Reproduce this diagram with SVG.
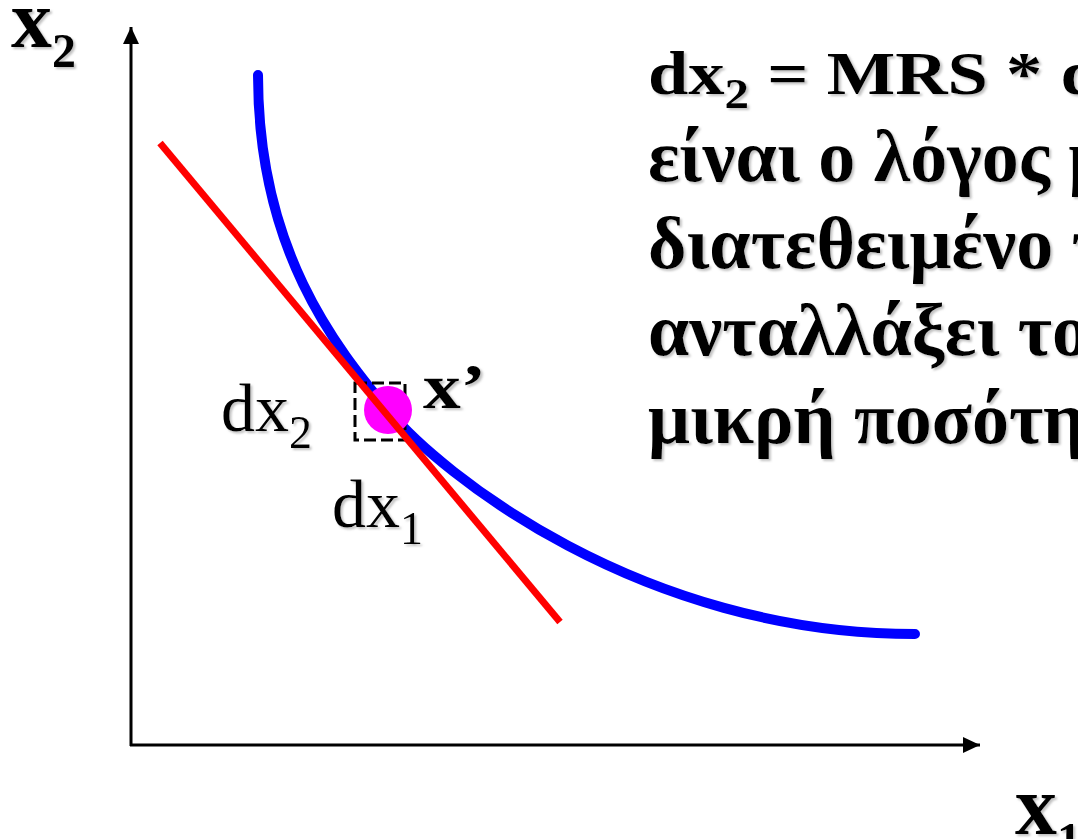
<svg xmlns="http://www.w3.org/2000/svg" width="1078" height="839" viewBox="0 0 1078 839">
<defs>
<filter id="sh" x="-10%" y="-10%" width="130%" height="130%">
<feDropShadow dx="2" dy="2" stdDeviation="0.8" flood-color="#999" flood-opacity="0.6"/>
</filter>
<marker id="ah" markerWidth="17" markerHeight="16" refX="17" refY="8" orient="auto" markerUnits="userSpaceOnUse" viewBox="0 0 17 16">
<path d="M0,0 L17,8 L0,16 z" fill="#000"/>
</marker>
</defs>
<style>
.t{font-family:"Liberation Serif","Times New Roman",serif;fill:#000;filter:url(#sh)}
.b{font-weight:bold}
.gr{font-size:74px}
.lab{font-size:68px}
</style>
<rect width="1078" height="839" fill="#fff"/>
<g id="axes">
<line x1="131" y1="746" x2="131" y2="27" stroke="#000" stroke-width="3" marker-end="url(#ah)"/>
<line x1="130" y1="745" x2="980" y2="745" stroke="#000" stroke-width="3" marker-end="url(#ah)"/>
</g>
<g id="connectors">
<path id="indiff" d="M258,75 C258,250 335,346 388,410 C440,473 640,634 915,634" fill="none" stroke="#0000ff" stroke-width="10" stroke-linecap="round"/>
<rect id="dashbox" x="355" y="383" width="50" height="57" fill="none" stroke="#000" stroke-width="3" stroke-dasharray="12,5"/>
</g>
<g id="point">
<circle cx="388" cy="410" r="24" fill="#ff00ff"/>
</g>
<g id="tangent">
<line x1="160" y1="143" x2="560" y2="622" stroke="#ff0000" stroke-width="7"/>
</g>
<g id="labels">
<text class="t b" x="11" y="47" font-size="82">x<tspan font-size="48" dy="20">2</tspan></text>
<text class="t b" x="1015" y="834" font-size="84">x<tspan font-size="48" dy="22">1</tspan></text>
<text class="t b" x="423" y="408" font-size="64" transform="translate(423,0) scale(1.18,1) translate(-423,0)">x’</text>
<text class="t lab" x="221" y="431">dx<tspan font-size="46" dy="17">2</tspan></text>
<text class="t lab" x="332" y="527">dx<tspan font-size="46" dy="17">1</tspan></text>
</g>
<g id="text">
<text class="t b" x="648" y="94" font-size="62" transform="translate(648,0) scale(1.17,1) translate(-648,0)">dx<tspan font-size="42" dy="14">2</tspan><tspan dy="-14"> = MRS * dx</tspan></text>
<text class="t b gr" x="648" y="181">είναι ο λόγος με τον οποίο</text>
<text class="t b gr" x="648" y="268">διατεθειμένο το άτομο</text>
<text class="t b gr" x="648" y="355">ανταλλάξει το αγαθό</text>
<text class="t b gr" x="648" y="443">μικρή ποσότητα</text>
</g>
</svg>
